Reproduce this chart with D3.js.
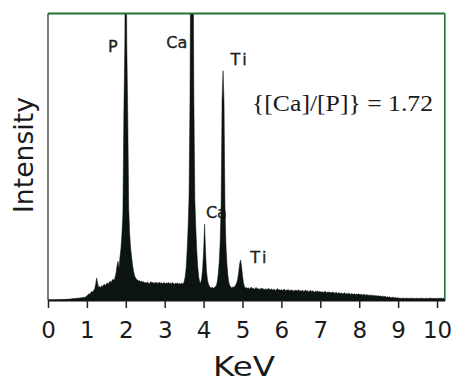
<!DOCTYPE html>
<html>
<head>
<meta charset="utf-8">
<script src="https://cdn.jsdelivr.net/npm/d3@7"></script>
<style>
  html, body { margin: 0; padding: 0; background: #fff; }
  svg { display: block; }
</style>
</head>
<body>
<svg id="chart" width="453" height="381"></svg>
<script>
// EDS spectrum: counts per 0.025 keV channel, starting at 0 keV
const channelWidth = 0.025;
const counts = [
  0,0,0,0,0,0,0,0,0,0,1,1,0,1,1,2,1,2,2,3,
  3,2,4,3,4,5,4,5,6,5,6,7,6,8,7,9,8,10,9,12,
  14,18,22,20,26,30,28,34,38,55,77,60,44,48,42,50,46,52,55,50,
  56,60,54,62,66,60,70,72,68,80,95,120,135,110,150,180,230,300,650,900,
  1500,900,650,320,230,180,150,120,100,85,78,72,70,66,68,64,66,62,65,60,
  62,58,63,60,57,61,64,59,62,58,60,63,57,61,59,62,58,60,56,61,
  59,57,60,58,62,56,59,57,61,58,55,59,57,60,56,58,55,59,57,56,
  65,80,110,170,250,360,700,1400,2000,1400,700,350,250,170,115,80,62,60,75,110,
  170,265,170,100,70,55,48,44,42,45,41,43,46,50,62,90,130,200,330,700,
  800,690,320,190,125,85,60,50,45,42,46,44,48,52,60,72,95,125,140,118,
  85,60,46,42,44,40,43,38,41,45,39,42,37,40,44,38,41,36,40,38,
  42,37,39,35,40,36,38,41,35,37,39,34,38,36,33,37,40,35,36,34,
  37,33,36,38,32,35,34,37,31,35,33,36,30,34,32,35,31,33,36,30,
  33,31,34,29,32,35,30,33,28,31,34,29,32,30,27,31,29,32,28,30,
  29,27,30,26,28,31,25,28,26,29,24,27,25,28,26,23,27,25,22,26,
  24,22,25,21,23,26,20,23,21,24,22,19,23,21,20,22,19,21,18,22,
  20,18,21,17,19,20,16,19,17,18,15,18,16,17,15,17,14,16,15,13,
  15,13,14,12,14,11,13,12,10,12,9,11,10,8,10,9,8,9,7,8,
  7,6,7,5,6,7,6,5,6,7,5,6,6,5,7,6,5,6,5,6,
  6,5,6,5,7,5,6,5,6,6,5,6,5,7,6,5,6,5,6,5,
  6,5,6,5,6,6,5,6,5
];

// Peak labels: element and energy position (keV) with label height (counts)
const peakLabels = ["P", "Ca", "Ti", "Ca", "Ti"];
const peakLabelKeV = [1.54, 3.04, 4.69, 4.06, 5.2];
const peakLabelCounts = [865, 880, 820, 285, 128];

const xTicks = [0, 1, 2, 3, 4, 5, 6, 7, 8, 9, 10];
const xTitle = "KeV";
const yTitle = "Intensity";
const ratioText = "{[Ca]/[P]} = 1.72";

const svg = d3.select("#chart");

const x = d3.scaleLinear().domain([0, 10.2]).range([48, 444.8]);
const y = d3.scaleLinear().domain([0, 1000]).range([300, 13.5]);

const spectrum = counts.map((c, i) => ({ e: i * channelWidth, c }));

svg.append("defs").append("clipPath").attr("id", "plotClip")
  .append("rect")
  .attr("x", x(0)).attr("y", y(1000))
  .attr("width", x(10.2) - x(0)).attr("height", y(0) - y(1000) + 1);

// element labels
const lbl = svg.append("g")
  .attr("font-family", "'DejaVu Sans', sans-serif")
  .attr("font-size", 16)
  .attr("fill", "#1c1f1d")
  .attr("stroke", "#1c1f1d")
  .attr("stroke-width", 0.35);
lbl.selectAll("text").data(peakLabels).join("text")
  .attr("x", (d, i) => x(peakLabelKeV[i]))
  .attr("y", (d, i) => y(peakLabelCounts[i]))
  .attr("letter-spacing", d => d === "Ti" ? 2.5 : 0)
  .text(d => d);

// filled spectrum
const area = d3.area()
  .x(d => x(d.e))
  .y0(y(0))
  .y1(d => y(d.c))
  .curve(d3.curveLinear);

svg.append("path")
  .datum(spectrum)
  .attr("clip-path", "url(#plotClip)")
  .attr("fill", "#0c1410")
  .attr("stroke", "#0c1410")
  .attr("stroke-width", 0.5)
  .attr("d", area);

// frame: top, right and left edges
svg.append("line")
  .attr("x1", x(0)).attr("x2", x(10.2))
  .attr("y1", y(1000)).attr("y2", y(1000))
  .attr("stroke", "#1f7535").attr("stroke-width", 2);
svg.append("line")
  .attr("x1", x(10.2)).attr("x2", x(10.2))
  .attr("y1", y(1000)).attr("y2", y(0))
  .attr("stroke", "#2a6b3c").attr("stroke-width", 1.6);
svg.append("line")
  .attr("x1", x(0)).attr("x2", x(0))
  .attr("y1", y(1000)).attr("y2", y(0))
  .attr("stroke", "#3d4a42").attr("stroke-width", 1.4);

// x axis
const xAxis = d3.axisBottom(x)
  .tickValues(xTicks)
  .tickFormat(d3.format("d"))
  .tickSize(8)
  .tickSizeOuter(0)
  .tickPadding(14);

const gx = svg.append("g")
  .attr("transform", `translate(0,${y(0)})`)
  .call(xAxis);
gx.select(".domain").attr("stroke", "#111").attr("stroke-width", 2);
gx.selectAll(".tick line").attr("stroke", "#222").attr("stroke-width", 1.5);
gx.selectAll(".tick text")
  .attr("font-family", "'DejaVu Sans', sans-serif")
  .attr("font-size", 23)
  .attr("fill", "#1a1a1a");

// axis titles
svg.append("text")
  .attr("x", 244).attr("y", 376)
  .attr("text-anchor", "middle")
  .attr("font-family", "'DejaVu Sans', sans-serif")
  .attr("font-size", 27)
  .attr("fill", "#1a1a1a")
  .attr("textLength", 62)
  .attr("lengthAdjust", "spacingAndGlyphs")
  .text(xTitle);

svg.append("text")
  .attr("transform", "translate(33,155) rotate(-90)")
  .attr("text-anchor", "middle")
  .attr("font-family", "'DejaVu Sans', sans-serif")
  .attr("font-size", 27)
  .attr("fill", "#1a1a1a")
  .attr("textLength", 116)
  .attr("lengthAdjust", "spacingAndGlyphs")
  .text(yTitle);

// Ca/P ratio annotation
svg.append("text")
  .attr("x", 252).attr("y", 111)
  .attr("font-family", "'Liberation Serif', 'Times New Roman', serif")
  .attr("font-size", 24)
  .attr("fill", "#1a1a1a")
  .attr("textLength", 181)
  .attr("lengthAdjust", "spacingAndGlyphs")
  .text(ratioText);
</script>
</body>
</html>
